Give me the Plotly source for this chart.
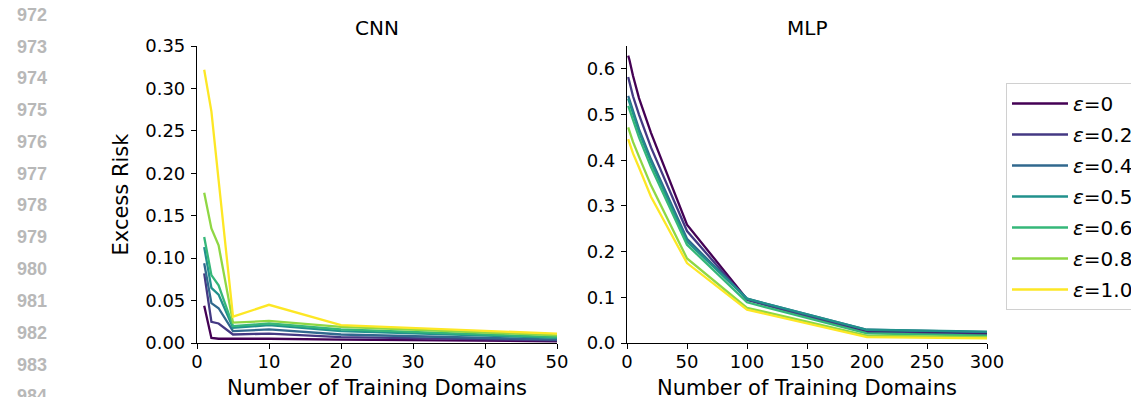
import plotly.graph_objects as go

# ---------------- data ----------------
eps_labels = ["0", "0.2", "0.4", "0.5", "0.6", "0.8", "1.0"]
colors = ["#440154", "#443983", "#31688e", "#21918c", "#35b779", "#8fd744", "#fde725"]

cnn_x = [1, 2, 3, 5, 10, 20, 50]
cnn_eps0 = [0.044, 0.006, 0.005, 0.005, 0.005, 0.004, 0.002]
cnn_eps02 = [0.082, 0.025, 0.023, 0.010, 0.011, 0.007, 0.003]
cnn_eps04 = [0.094, 0.047, 0.041, 0.014, 0.016, 0.010, 0.004]
cnn_eps05 = [0.113, 0.065, 0.057, 0.018, 0.021, 0.014, 0.006]
cnn_eps06 = [0.125, 0.080, 0.068, 0.020, 0.023, 0.016, 0.007]
cnn_eps08 = [0.177, 0.135, 0.115, 0.024, 0.026, 0.019, 0.009]
cnn_eps10 = [0.322, 0.273, 0.192, 0.031, 0.045, 0.021, 0.011]

mlp_x = [1, 2, 5, 10, 20, 50, 100, 200, 300]
mlp_eps0 = [0.629, 0.620, 0.585, 0.536, 0.460, 0.259, 0.096, 0.025, 0.021]
mlp_eps02 = [0.582, 0.572, 0.540, 0.500, 0.428, 0.245, 0.094, 0.023, 0.018]
mlp_eps04 = [0.541, 0.533, 0.505, 0.468, 0.402, 0.228, 0.097, 0.029, 0.024]
mlp_eps05 = [0.535, 0.527, 0.499, 0.462, 0.396, 0.222, 0.097, 0.029, 0.025]
mlp_eps06 = [0.519, 0.511, 0.485, 0.450, 0.385, 0.215, 0.089, 0.021, 0.016]
mlp_eps08 = [0.472, 0.464, 0.440, 0.408, 0.345, 0.185, 0.077, 0.016, 0.013]
mlp_eps10 = [0.446, 0.438, 0.415, 0.384, 0.320, 0.175, 0.073, 0.013, 0.010]

cnn_series = [cnn_eps0, cnn_eps02, cnn_eps04, cnn_eps05, cnn_eps06, cnn_eps08, cnn_eps10]
mlp_series = [mlp_eps0, mlp_eps02, mlp_eps04, mlp_eps05, mlp_eps06, mlp_eps08, mlp_eps10]

line_numbers = [str(n) for n in range(972, 985)]

# ---------------- layout geometry (page pixels) ----------------
OFF = 8                      # default body margin of the html page
PAGE_W, PAGE_H = 1139, 397
W, H = PAGE_W - OFF, PAGE_H - OFF
L, R, T, B = 197, 987, 46, 343   # plot area in page pixels
PW, PH = R - L, B - T

def px2x(px):
    return (px - L) / PW

def px2y(py):
    return (B - py) / PH

FONT = "DejaVu Sans"

fig = go.Figure()
for i, lab in enumerate(eps_labels):
    fig.add_trace(go.Scatter(
        x=cnn_x, y=cnn_series[i], mode="lines",
        line=dict(color=colors[i], width=2.3),
        name="<i>ε</i>=" + lab, legendgroup=lab, showlegend=True,
        xaxis="x", yaxis="y"))
for i, lab in enumerate(eps_labels):
    fig.add_trace(go.Scatter(
        x=mlp_x, y=mlp_series[i], mode="lines",
        line=dict(color=colors[i], width=2.3),
        name="<i>ε</i>=" + lab, legendgroup=lab, showlegend=False,
        xaxis="x2", yaxis="y2"))

axis_common = dict(
    showgrid=False, zeroline=False, showline=True, linecolor="black", linewidth=1.2,
    ticks="outside", ticklen=5, tickwidth=1.2, tickcolor="black",
    tickfont=dict(family=FONT, size=18, color="black"),
)

fig.update_layout(
    width=W, height=H,
    margin=dict(l=L - OFF, r=W - (R - OFF), t=T - OFF, b=H - (B - OFF), autoexpand=False),
    paper_bgcolor="white", plot_bgcolor="white",
    font=dict(family=FONT, color="black"),
    xaxis=dict(domain=[0, px2x(557)], range=[0, 50], tickvals=[0, 10, 20, 30, 40, 50],
               anchor="y", ticklabelstandoff=-3, **axis_common),
    yaxis=dict(domain=[0, 1], range=[0, 0.35],
               tickvals=[0, 0.05, 0.1, 0.15, 0.2, 0.25, 0.3, 0.35], tickformat=".2f",
               anchor="x", ticklabelstandoff=2,
               title=dict(text="Excess Risk", font=dict(size=21), standoff=10),
               **axis_common),
    xaxis2=dict(domain=[px2x(627), 1], range=[0, 300], tickvals=[0, 50, 100, 150, 200, 250, 300],
                anchor="y2", ticklabelstandoff=-3, **axis_common),
    yaxis2=dict(domain=[0, 1], range=[0, 0.65],
                tickvals=[0, 0.1, 0.2, 0.3, 0.4, 0.5, 0.6], tickformat=".1f",
                anchor="x2", ticklabelstandoff=2, **axis_common),
    legend=dict(
        x=px2x(1006), y=px2y(83), xanchor="left", yanchor="top",
        bordercolor="#d0d0d0", borderwidth=1, bgcolor="white",
        font=dict(family=FONT, size=20, color="black"),
        tracegroupgap=2, itemwidth=56,
    ),
    showlegend=True,
)

# subplot titles
for cx, txt in [(377, "CNN"), (807, "MLP")]:
    fig.add_annotation(x=px2x(cx), y=px2y(28), xref="paper", yref="paper", text=txt,
                       xanchor="center", yanchor="middle",
                       showarrow=False, font=dict(family=FONT, size=20, color="black"))

# x-axis titles
for cx in [377, 807]:
    fig.add_annotation(x=px2x(cx), y=px2y(388), xref="paper", yref="paper",
                       text="Number of Training Domains", xanchor="center", yanchor="middle",
                       showarrow=False, font=dict(family=FONT, size=21, color="black"))

# page line numbers in the margin
for k, txt in enumerate(line_numbers):
    fig.add_annotation(x=px2x(31.7), y=px2y(14.7 + 31.8 * k), xref="paper", yref="paper",
                       text="<b>" + txt + "</b>", showarrow=False,
                       xanchor="center", yanchor="middle",
                       font=dict(family="Liberation Sans", size=18, color="#b8b8b8"))

fig.write_html("out.html")
